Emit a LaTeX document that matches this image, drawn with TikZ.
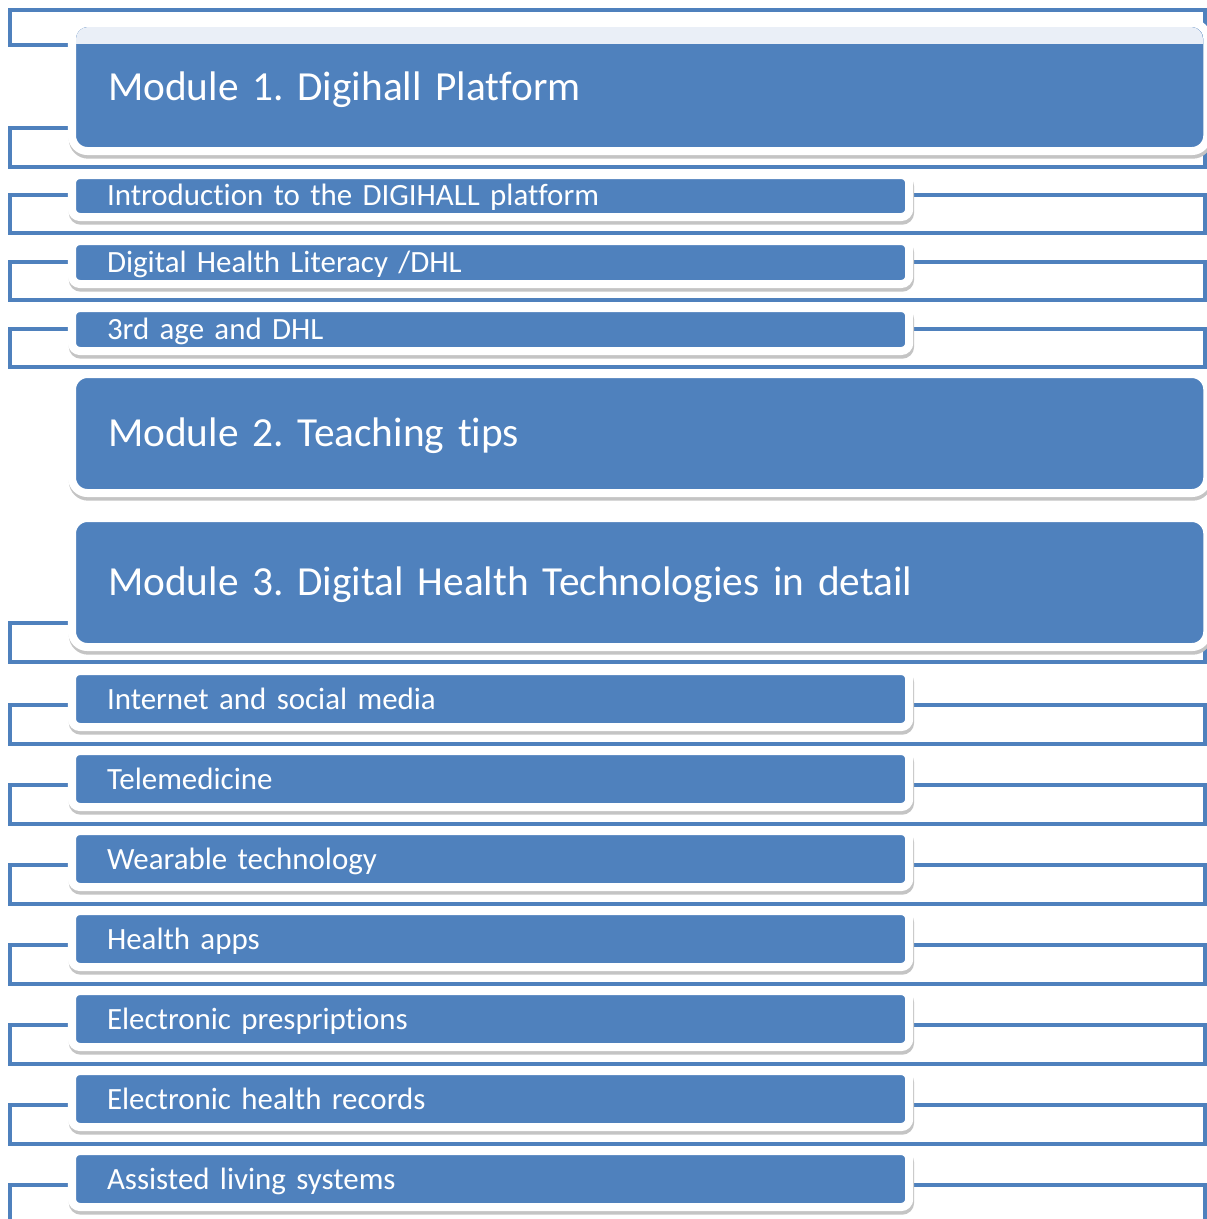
\documentclass[tikz,border=0pt]{standalone}
\usepackage{fontspec}
\setmainfont{Carlito}[Ligatures=NoCommon]
\frenchspacing
\usetikzlibrary{positioning}
\definecolor{accent}{HTML}{4F81BD}
\definecolor{bandgray}{HTML}{EAEFF7}
\definecolor{shadowgray}{HTML}{C4C4C4}
\tikzset{%
  module/.style  = {rectangle, rounded corners=11pt, fill=accent, draw=white,
    line width=5.7pt, outer sep=0pt, anchor=north west, text=white,
    font=\fontsize{29.4}{34}\selectfont, inner xsep=0.9cm, inner ysep=0pt,
    text width=26.575cm, align=left, text height=18.9pt, text depth=0pt,
    preaction={draw=shadowgray, fill=shadowgray,
      transform canvas={xshift=0.6pt, yshift=-2.6pt}}},
  topic/.style   = {module, rounded corners=5.7pt, text width=19.175cm,
    inner xsep=0.875cm, font=\fontsize{22}{26}\selectfont,
    text height=14.2pt, minimum height=1.4cm}, % sub-item
  bracket/.style = {draw=accent, line width=2.9pt} % back frame
}

\begin{document}
\begin{tikzpicture}[x=0.025cm, y=-0.025cm]
  \clip (0,0) rectangle (1207,1219);
  \fill[white] (0,0) rectangle (1207,1219);

  % frames behind the boxes
  \draw[bracket] (10,10) rectangle (1205,45);
  \draw[bracket] (10,128) rectangle (1205,167);
  \draw[bracket] (10,195) rectangle (1205,233);
  \draw[bracket] (10,262) rectangle (1205,300);
  \draw[bracket] (10,329) rectangle (1205,367);
  \draw[bracket] (10,623) rectangle (1205,662);
  \draw[bracket] (10,705) rectangle (1205,744);
  \draw[bracket] (10,785) rectangle (1205,824);
  \draw[bracket] (10,865) rectangle (1205,904);
  \draw[bracket] (10,945) rectangle (1205,984);
  \draw[bracket] (10,1025) rectangle (1205,1064);
  \draw[bracket] (10,1105) rectangle (1205,1144);
  \draw[bracket] (10,1185) rectangle (1205,1240);

  % module 1
  \node[module, minimum height=3.2cm] (mod1) at (72,23) {Module 1. Digihall Platform};
  \begin{scope}
    \clip (0,0) rectangle (1207,43);
    \fill[bandgray, rounded corners=8.5pt] (76,27) rectangle (1203,80);
  \end{scope}
  \node[topic, minimum height=1.05cm] (intro) at (72,175) {Introduction to the DIGIHALL platform};
  \node[topic, minimum height=1.075cm] (dhl) at (72,241) {Digital Health Literacy /DHL};
  \node[topic, minimum height=1.075cm] (age) at (72,308) {3rd age and DHL};

  % module 2
  \node[module, minimum height=2.975cm] (mod2) at (72,374) {Module 2. Teaching tips};

  % module 3
  \node[module, minimum height=3.225cm] (mod3) at (72,518) {Module 3. Digital Health Technologies in detail};
  \node[topic] (net) at (72,671) {Internet and social media};
  \node[topic] (tele) at (72,751) {Telemedicine};
  \node[topic] (wear) at (72,831) {Wearable technology};
  \node[topic] (apps) at (72,911) {Health apps};
  \node[topic] (presc) at (72,991) {Electronic presprip\-tions};
  \node[topic] (ehr) at (72,1071) {Electronic health records};
  \node[topic] (als) at (72,1151) {Assisted living systems};

\end{tikzpicture}
\end{document}
